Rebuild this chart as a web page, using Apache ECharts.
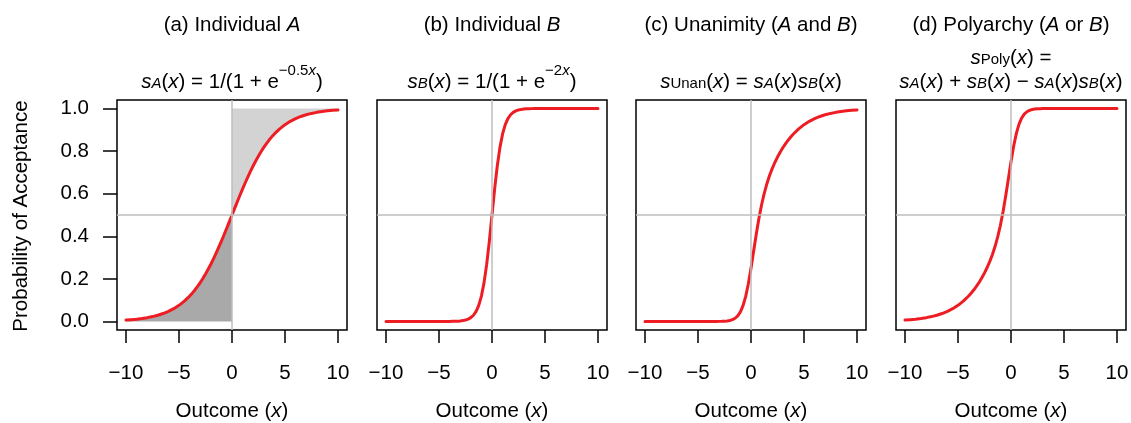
<!DOCTYPE html>
<html>
<head>
<meta charset="utf-8">
<title>Probability of Acceptance</title>
<script src="https://cdn.jsdelivr.net/npm/echarts@6/dist/echarts.min.js"></script>
<style>
  html, body { margin: 0; padding: 0; background: #fff; }
  #chart { width: 1131px; height: 423px; }
</style>
</head>
<body>
<div id="chart"></div>
<script>
// Outcome grid on which the acceptance curves are sampled
const outcomes = [-10, -9.5, -9, -8.5, -8, -7.5, -7, -6.5, -6, -5.5, -5, -4.5,
  -4, -3.75, -3.5, -3.25, -3, -2.75, -2.5, -2.25, -2, -1.75, -1.5, -1.25, -1, -0.75, -0.5, -0.25,
  0,
  0.25, 0.5, 0.75, 1, 1.25, 1.5, 1.75, 2, 2.25, 2.5, 2.75, 3, 3.25, 3.5, 3.75, 4,
  4.5, 5, 5.5, 6, 6.5, 7, 7.5, 8, 8.5, 9, 9.5, 10];

// Individual A
const sA = [0.0067, 0.0086, 0.0110, 0.0141, 0.0180, 0.0230, 0.0293, 0.0373, 0.0474, 0.0601, 0.0759, 0.0953,
  0.1192, 0.1330, 0.1480, 0.1645, 0.1824, 0.2018, 0.2227, 0.2451, 0.2689, 0.2942, 0.3208, 0.3487, 0.3775, 0.4073, 0.4378, 0.4688,
  0.5,
  0.5312, 0.5622, 0.5927, 0.6225, 0.6514, 0.6792, 0.7058, 0.7311, 0.7549, 0.7773, 0.7982, 0.8176, 0.8355, 0.8520, 0.8670, 0.8808,
  0.9047, 0.9241, 0.9399, 0.9526, 0.9627, 0.9707, 0.9770, 0.9820, 0.9859, 0.9890, 0.9914, 0.9933];

// Individual B
const sB = [0, 0, 0, 0, 0, 0, 0, 0, 0, 0, 0, 0.0001,
  0.0003, 0.0006, 0.0009, 0.0015, 0.0025, 0.0041, 0.0067, 0.0110, 0.0180, 0.0293, 0.0474, 0.0759, 0.1192, 0.1824, 0.2689, 0.3775,
  0.5,
  0.6225, 0.7311, 0.8176, 0.8808, 0.9241, 0.9526, 0.9707, 0.9820, 0.9890, 0.9933, 0.9959, 0.9975, 0.9985, 0.9991, 0.9995, 0.9997,
  0.9999, 1, 1, 1, 1, 1, 1, 1, 1, 1, 1, 1];

// Unanimity (A and B)
const sUnan = [0, 0, 0, 0, 0, 0, 0, 0, 0, 0, 0, 0,
  0, 0.0001, 0.0001, 0.0002, 0.0005, 0.0008, 0.0015, 0.0027, 0.0048, 0.0086, 0.0152, 0.0265, 0.0450, 0.0743, 0.1178, 0.1770,
  0.25,
  0.3307, 0.4110, 0.4846, 0.5483, 0.6020, 0.6470, 0.6851, 0.7179, 0.7466, 0.7721, 0.7950, 0.8156, 0.8343, 0.8512, 0.8665, 0.8805,
  0.9046, 0.9241, 0.9399, 0.9526, 0.9627, 0.9707, 0.9770, 0.9820, 0.9859, 0.9890, 0.9914, 0.9933];

// Polyarchy (A or B)
const sPoly = [0.0067, 0.0086, 0.0110, 0.0141, 0.0180, 0.0230, 0.0293, 0.0373, 0.0474, 0.0601, 0.0759, 0.0954,
  0.1195, 0.1335, 0.1488, 0.1658, 0.1844, 0.2050, 0.2279, 0.2534, 0.2821, 0.3149, 0.3530, 0.3981, 0.4517, 0.5154, 0.5890, 0.6694,
  0.75,
  0.8230, 0.8823, 0.9257, 0.9550, 0.9736, 0.9848, 0.9914, 0.9952, 0.9973, 0.9985, 0.9992, 0.9996, 0.9998, 0.9999, 0.9999, 1,
  1, 1, 1, 1, 1, 1, 1, 1, 1, 1, 1, 1];

const xTicks = [-10, -5, 0, 5, 10];
const yTicks = [0, 0.2, 0.4, 0.6, 0.8, 1.0];

const panelTitles = [
  '(a) Individual {i|A}',
  '(b) Individual {i|B}',
  '(c) Unanimity ({i|A} and {i|B})',
  '(d) Polyarchy ({i|A} or {i|B})'
];
const panelFormulas = [
  '{i|s}{sb|A}{n|(}{i|x}{n|) = 1/(1 + e}{sp|\u22120.5}{spi|x}{n|)}',
  '{i|s}{sb|B}{n|(}{i|x}{n|) = 1/(1 + e}{sp|\u22122}{spi|x}{n|)}',
  '{i|s}{sbn|Unan}{n|(}{i|x}{n|) = }{i|s}{sb|A}{n|(}{i|x}{n|)}{i|s}{sb|B}{n|(}{i|x}{n|)}',
  '{i|s}{sbn|Poly}{n|(}{i|x}{n|) =}\n{i|s}{sb|A}{n|(}{i|x}{n|) + }{i|s}{sb|B}{n|(}{i|x}{n|) \u2212 }{i|s}{sb|A}{n|(}{i|x}{n|)}{i|s}{sb|B}{n|(}{i|x}{n|)}'
];
const panelSeries = [sA, sB, sUnan, sPoly];

const FONT = "'Liberation Sans', Arial, Helvetica, sans-serif";
const FS = 20.5;
const RED = '#EE1D23';
const GUIDE = '#BEBEBE';

const panelLeft = [117, 377, 636, 896];
const panelTop = 100;
const panelSize = 230;
const X_MIN = -10.85, X_MAX = 10.85;
const Y_MIN = -0.04, Y_MAX = 1.04;

const mathRich = {
  n:   { fontFamily: FONT, fontSize: FS, lineHeight: 24, fill: '#000', color: '#000' },
  i:   { fontFamily: FONT, fontSize: FS, lineHeight: 24, fontStyle: 'italic', fill: '#000', color: '#000' },
  sb:  { fontFamily: FONT, fontSize: 15, lineHeight: 15, fontStyle: 'italic', padding: [4, 0, 0, 0], fill: '#000', color: '#000' },
  sbn: { fontFamily: FONT, fontSize: 15, lineHeight: 15, padding: [4, 0, 0, 0], fill: '#000', color: '#000' },
  sp:  { fontFamily: FONT, fontSize: 15, lineHeight: 15, padding: [0, 0, 22, 0], fill: '#000', color: '#000' },
  spi: { fontFamily: FONT, fontSize: 15, lineHeight: 15, fontStyle: 'italic', padding: [0, 0, 22, 0], fill: '#000', color: '#000' }
};

function textEl(text, x, y, extra) {
  return Object.assign({
    type: 'text', x: x, y: y, silent: true,
    style: {
      text: text, rich: mathRich,
      fontFamily: FONT, fontSize: FS, lineHeight: 24,
      fill: '#000',
      align: 'center', textAlign: 'center',
      verticalAlign: 'middle', textVerticalAlign: 'middle'
    }
  }, extra || {});
}

const minusFmt = v => (v < 0 ? '\u2212' + Math.abs(v) : String(v));

const grids = [], xAxes = [], yAxes = [], series = [], graphics = [];

panelLeft.forEach((left, p) => {
  const cx = left + panelSize / 2;
  grids.push({
    left: left, top: panelTop, width: panelSize, height: panelSize,
    show: true, borderColor: '#000', borderWidth: 1.5, backgroundColor: 'transparent',
    containLabel: false, outerBoundsMode: 'none'
  });
  xAxes.push({
    type: 'value', gridIndex: p, min: X_MIN, max: X_MAX, position: 'bottom',
    axisLine: { show: false, onZero: false }, splitLine: { show: false },
    axisTick: { show: true, inside: false, length: 13, customValues: xTicks,
      lineStyle: { color: '#000', width: 1.5 } },
    axisLabel: { show: true, customValues: xTicks, formatter: minusFmt, margin: 33,
      color: '#000', fontSize: FS, fontFamily: FONT }
  });
  yAxes.push({
    type: 'value', gridIndex: p, min: Y_MIN, max: Y_MAX, position: 'left',
    axisLine: { show: false, onZero: false }, splitLine: { show: false },
    axisTick: { show: p === 0, inside: false, length: 14, customValues: yTicks,
      lineStyle: { color: '#000', width: 1.5 } },
    axisLabel: { show: p === 0, customValues: yTicks, formatter: v => v.toFixed(1), margin: 28,
      color: '#000', fontSize: FS, fontFamily: FONT }
  });

  const vals = panelSeries[p];
  const pts = outcomes.map((x, k) => [x, vals[k]]);

  // reference lines at x = 0 and probability 0.5
  series.push({
    type: 'line', xAxisIndex: p, yAxisIndex: p, data: pts, z: 1,
    symbol: 'none', silent: true, lineStyle: { opacity: 0 },
    markLine: {
      silent: true, symbol: ['none', 'none'], label: { show: false },
      lineStyle: { color: GUIDE, width: 1.5, type: 'solid' },
      emphasis: { disabled: true },
      data: [{ xAxis: 0 }, { yAxis: 0.5 }]
    }
  });

  series.push({
    type: 'line', xAxisIndex: p, yAxisIndex: p, data: pts, z: 3,
    symbol: 'none', smooth: false, silent: true,
    lineStyle: { color: RED, width: 3, join: 'round', cap: 'round' }
  });

  graphics.push(textEl(panelTitles[p], cx, 25));
  graphics.push(textEl(panelFormulas[p], cx, p === 3 ? 70 : 82));
  graphics.push(textEl('Outcome ({i|x})', cx, 411));
});

// Shaded regions for individual A: below the curve for x < 0, above it for x > 0
const lowerPts = outcomes.map((x, k) => [x, sA[k]]).filter(d => d[0] <= 0);
const upperPts = outcomes.map((x, k) => [x, sA[k]]).filter(d => d[0] >= 0);
series.push({
  type: 'custom', xAxisIndex: 0, yAxisIndex: 0, z: 0, silent: true,
  data: [[0, 0]],
  renderItem: function (params, api) {
    const below = lowerPts.map(d => api.coord(d));
    below.push(api.coord([0, 0]));
    below.push(api.coord([lowerPts[0][0], 0]));
    const above = upperPts.map(d => api.coord(d));
    above.push(api.coord([upperPts[upperPts.length - 1][0], 1]));
    above.push(api.coord([0, 1]));
    return {
      type: 'group',
      children: [
        { type: 'polygon', shape: { points: below }, style: { fill: '#A9A9A9' } },
        { type: 'polygon', shape: { points: above }, style: { fill: '#D3D3D3' } }
      ]
    };
  }
});

graphics.push(textEl('Probability of Acceptance', 21, 216, { rotation: Math.PI / 2 }));

const chart = echarts.init(document.getElementById('chart'), null, { renderer: 'canvas' });
chart.setOption({
  animation: false,
  backgroundColor: '#fff',
  grid: grids,
  xAxis: xAxes,
  yAxis: yAxes,
  series: series,
  graphic: { elements: graphics }
});
</script>
</body>
</html>
